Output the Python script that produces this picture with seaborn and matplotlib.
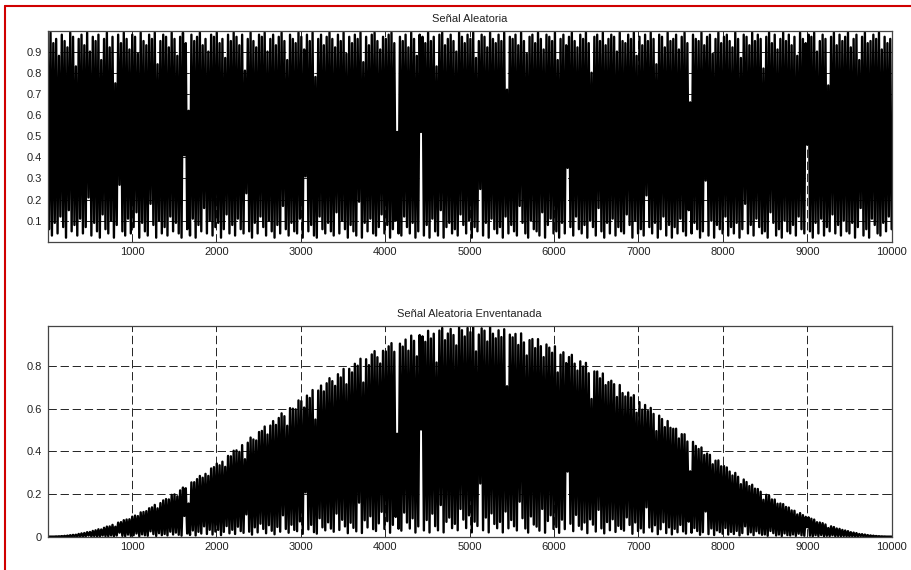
import numpy as np
import matplotlib
matplotlib.use('Agg')
import matplotlib.pyplot as plt
import seaborn as sns
from matplotlib.lines import Line2D

sns.set_style('white')
plt.rcParams['font.family'] = ['Liberation Sans', 'DejaVu Sans']

# Titulos y ejes
titulo_1 = 'Señal Aleatoria'
titulo_2 = 'Señal Aleatoria Enventanada'
n_muestras = 10000
xticks = [1000, 2000, 3000, 4000, 5000, 6000, 7000, 8000, 9000, 10000]
yticks_1 = [0.1, 0.2, 0.3, 0.4, 0.5, 0.6, 0.7, 0.8, 0.9]
yticks_2 = [0, 0.2, 0.4, 0.6, 0.8]

# Valores (en %): maximo y minimo de cada tramo de la senal
picos = [
    97, 99, 94, 96, 88, 98, 95, 92, 99, 97, 83, 96, 98, 93, 99, 90, 97, 95, 98, 86,
    96, 99, 92, 97, 75, 98, 94, 99, 96, 91, 98, 97, 89, 99, 95, 93, 98, 96, 99, 84,
    95, 98, 97, 92, 99, 96, 88, 97, 99, 94, 62, 98, 95, 97, 99, 93, 96, 90, 98, 97,
    99, 94, 96, 87, 98, 95, 99, 97, 93, 98, 81, 96, 99, 95, 92, 98, 97, 99, 90, 96,
    98, 93, 97, 99, 95, 86, 98, 96, 94, 99, 97, 91, 98, 95, 99, 78, 96, 98, 93, 97,
    99, 96, 92, 98, 95, 99, 89, 97, 94, 98, 96, 99, 85, 97, 93, 98, 99, 95, 91, 97,
    96, 98, 99, 94, 52, 97, 95, 98, 92, 99, 96, 88, 98, 97, 94, 99, 95, 97, 83, 98,
    99, 93, 96, 98, 95, 90, 99, 97, 94, 98, 96, 99, 87, 95, 98, 97, 92, 99, 96, 94,
    98, 95, 99, 72, 97, 96, 98, 93, 99, 95, 89, 97, 98, 94, 99, 96, 91, 98, 97, 95,
    99, 86, 96, 98, 93, 97, 99, 95, 92, 98, 96, 99, 94, 80, 97, 98, 95, 99, 93, 96,
    98, 97, 90, 99, 95, 94, 98, 96, 99, 88, 97, 93, 98, 95, 99, 96, 84, 98, 97, 92,
    99, 95, 96, 98, 91, 97, 99, 94, 66, 98, 96, 95, 99, 93, 97, 98, 89, 96, 99, 94,
    97, 98, 95, 92, 99, 96, 87, 98, 97, 93, 99, 95, 98, 96, 82, 97, 99, 94, 98, 91,
    96, 99, 95, 98, 93, 97, 88, 99, 96, 94, 98, 97, 99, 90, 95, 98, 96, 74, 97, 99,
    93, 98, 95, 97, 99, 92, 96, 98, 86, 97, 99, 94, 95, 98, 96, 99, 91, 97, 94, 96,
]
valles = [
    6, 3, 9, 4, 12, 7, 2, 15, 5, 8, 3, 11, 4, 7, 21, 3, 9, 5, 2, 13,
    6, 4, 10, 2, 8, 27, 5, 3, 11, 4, 7, 14, 2, 9, 5, 3, 18, 8, 2, 10,
    4, 7, 3, 12, 5, 9, 4, 2, 41, 6, 3, 11, 2, 8, 5, 16, 4, 10, 3, 7,
    9, 2, 6, 13, 4, 8, 3, 11, 6, 4, 23, 5, 2, 9, 4, 12, 7, 3, 10, 5,
    2, 8, 4, 17, 6, 3, 9, 5, 4, 11, 2, 31, 5, 8, 3, 2, 12, 6, 4, 9,
    5, 3, 14, 4, 10, 6, 2, 8, 5, 3, 19, 2, 9, 5, 11, 4, 3, 7, 13, 4,
    8, 2, 6, 10, 4, 3, 12, 7, 4, 9, 2, 5, 52, 3, 8, 2, 11, 5, 3, 15,
    2, 7, 9, 4, 6, 3, 13, 8, 4, 10, 2, 7, 5, 25, 3, 9, 2, 11, 6, 4,
    7, 2, 12, 4, 8, 5, 3, 17, 9, 4, 2, 10, 6, 5, 3, 14, 2, 8, 11, 4,
    5, 2, 9, 4, 35, 7, 3, 12, 6, 4, 8, 2, 10, 7, 3, 16, 5, 2, 9, 4,
    11, 3, 7, 5, 4, 13, 8, 2, 10, 4, 6, 3, 22, 7, 4, 9, 2, 6, 12, 3,
    8, 2, 7, 4, 11, 5, 3, 15, 4, 9, 6, 2, 5, 29, 3, 10, 2, 8, 6, 4,
    12, 3, 7, 4, 9, 2, 6, 18, 4, 8, 3, 11, 7, 4, 5, 2, 14, 9, 3, 6,
    2, 10, 5, 4, 8, 3, 12, 6, 4, 46, 5, 2, 9, 4, 11, 3, 7, 5, 13, 4,
    8, 3, 10, 5, 4, 9, 2, 7, 16, 3, 6, 2, 11, 8, 4, 3, 9, 5, 12, 6,
]

# senal alternando pico / valle, y la misma senal por una ventana de Hann
senal = np.column_stack([picos, valles]).ravel() / 100.0
muestras = np.linspace(1, n_muestras, len(senal))
senal_vent = senal * np.hanning(len(senal))

fig = plt.figure(figsize=(9.12, 5.70), dpi=100)
ax1 = fig.add_axes([0.0523, 0.5760, 0.9254, 0.3702])
ax2 = fig.add_axes([0.0523, 0.0585, 0.9254, 0.3700])

sns.lineplot(x=muestras, y=senal, ax=ax1, color='black', lw=1.7, estimator=None)
sns.lineplot(x=muestras, y=senal_vent, ax=ax2, color='black', lw=1.7, estimator=None)

for ax, titulo, yt in [(ax1, titulo_1, yticks_1), (ax2, titulo_2, yticks_2)]:
    ax.set_title(titulo, fontsize=8, color='#222222', pad=6.5)
    ax.set_xlim(1, n_muestras)
    ax.set_xticks(xticks)
    ax.set_yticks(yt)
    ax.set_yticklabels([f'{v:g}' for v in yt])
    ax.tick_params(direction='in', top=True, right=True, length=2.5, width=0.6,
                   labelsize=8, colors='#222222', pad=4)
    ax.grid(True, color='black', linestyle=(0, (10, 4.5)), lw=0.6)
    ax.set_axisbelow(True)
    for sp in ax.spines.values():
        sp.set_color('#444444')
        sp.set_linewidth(0.9)

ax1.set_ylim(0.001, 0.999)
ax2.set_ylim(0, 0.99)

# marco rojo de la captura
fig.add_artist(Line2D([0.006, 1.0], [0.9886, 0.9886], color='#d00000', lw=1.5))
fig.add_artist(Line2D([0.006, 0.006], [0.0, 0.9886], color='#d00000', lw=1.5))

plt.savefig('out.png', dpi=100)
